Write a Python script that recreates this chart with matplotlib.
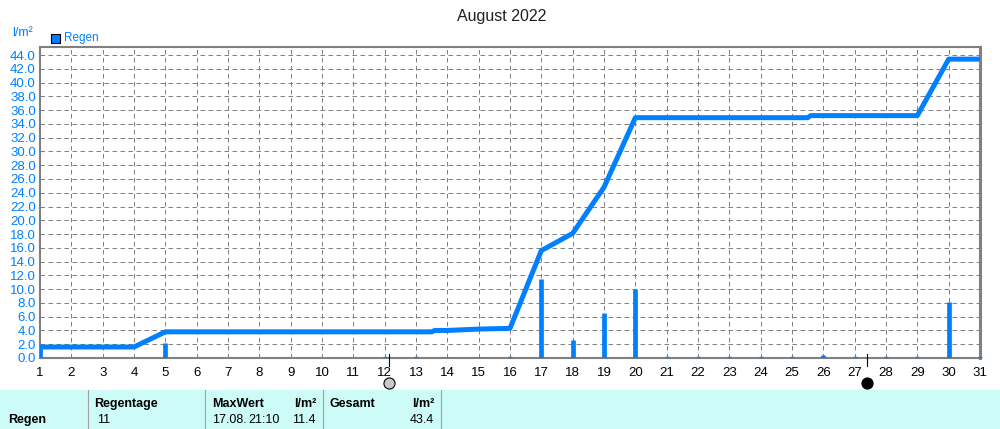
import matplotlib
matplotlib.use("Agg")
import matplotlib.pyplot as plt
from matplotlib.patches import Rectangle

plt.rcParams['font.family'] = ['Liberation Sans', 'DejaVu Sans']

BLUE = '#0080ff'
GREY = '#808080'
CYAN = '#ccfbf8'

sum_days = [1, 4, 5, 13.5, 13.6, 14, 15, 16, 17, 18, 19, 20, 25.5, 25.6, 29, 30, 31]
sum_vals = [1.6, 1.6, 3.8, 3.8, 4.0, 4.0, 4.2, 4.3, 15.6, 18.1, 24.8, 34.9, 34.9, 35.2, 35.2, 43.4, 43.4]
rain_days = [1, 5, 14, 15, 17, 18, 19, 20, 26, 30]
rain_vals = [1.6, 2.2, 0.2, 0.2, 11.4, 2.6, 6.6, 10.0, 0.4, 8.2]
trace_days = [12, 13, 16, 21, 22, 23, 24, 25, 27, 28, 29, 31]
trace_vals = [0.1] * 12
day_labels = list(range(1, 32))
y_ticks = list(range(0, 46, 2))[:23]
moon_days = [12.15, 27.4]

W, H = 1000, 429
fig = plt.figure(figsize=(W / 100, H / 100), dpi=100)

# plot area in pixels
left, right, top, bottom = 40, 980, 47, 358
ax = fig.add_axes([left / W, 1 - bottom / H, (right - left) / W, (bottom - top) / H])
ax.set_xlim(1, 31)
ax.set_ylim(0, (bottom - top) / 6.886)

ax.grid(True, color=GREY, ls=(0, (4.5, 3.5)), lw=0.72)
ax.set_axisbelow(True)
for s in ax.spines.values():
    s.set_color(GREY)
    s.set_linewidth(1.5)
ax.spines['right'].set_linewidth(2.2)

ax.set_xticks(day_labels)
ax.set_xticklabels(day_labels, fontsize=9.5, color='black')
ax.set_yticks(y_ticks)
ax.set_yticklabels(['%.1f' % v for v in y_ticks], fontsize=9.5, color=BLUE)
ax.tick_params(length=0, axis='y', pad=3)
ax.tick_params(length=0, axis='x', pad=6.5)

ax.vlines(rain_days, 0, rain_vals, color=BLUE, lw=3.4, zorder=3)
ax.plot(trace_days, trace_vals, ls='', marker='_', ms=3, mew=1, color=BLUE, zorder=5, clip_on=False)
ax.plot(sum_days, sum_vals, color=BLUE, lw=3.6, zorder=4, solid_capstyle='butt', clip_on=False)

# moon phases below the axis
for d, fc in zip(moon_days, ['#c8c8c8', 'black']):
    x = (left + (d - 1) / 30 * (right - left)) / W
    fig.add_artist(plt.Line2D([x, x], [1 - 354 / H, 1 - 366 / H], color='black', lw=0.8))
    fig.add_artist(plt.Line2D([x], [1 - 383 / H], marker='o', ms=8, mfc=fc, mec='black', mew=0.8, ls=''))

fig.text(502 / W, 1 - 16 / H, 'August 2022', ha='center', va='center', fontsize=11.5, color='#202020')
fig.text(12 / W, 1 - 33 / H, 'l/m²', ha='left', va='center', fontsize=9, color=BLUE)
fig.add_artist(Rectangle((50.5 / W, 1 - 42.5 / H), 9 / W, 9 / H, transform=fig.transFigure,
                         fc=BLUE, ec='black', lw=0.8))
fig.text(64 / W, 1 - 38 / H, 'Regen', ha='left', va='center', fontsize=8.5, color=BLUE)

# summary table at the bottom
fig.add_artist(Rectangle((0, 0), 1, 39 / H, transform=fig.transFigure, fc=CYAN, ec='none'))
for px in [88, 205, 323, 441]:
    fig.add_artist(plt.Line2D([px / W, px / W], [0, 39 / H], color='#a0a0a0', lw=0.8))


def cell(x, y, s, bold=False, ha='left'):
    fig.text(x / W, 1 - y / H, s, ha=ha, va='center', fontsize=9,
             fontweight='bold' if bold else 'normal', color='black')


cell(8, 420, 'Regen', True)
cell(94, 404, 'Regentage', True)
cell(97, 420, '11')
cell(212, 404, 'MaxWert', True)
cell(316, 404, 'l/m²', True, 'right')
cell(212, 420, '17.08.')
cell(248, 420, '21:10')
cell(316, 420, '11.4', ha='right')
cell(330, 404, 'Gesamt', True)
cell(434, 404, 'l/m²', True, 'right')
cell(434, 420, '43.4', ha='right')

fig.savefig('out.png', dpi=100)
